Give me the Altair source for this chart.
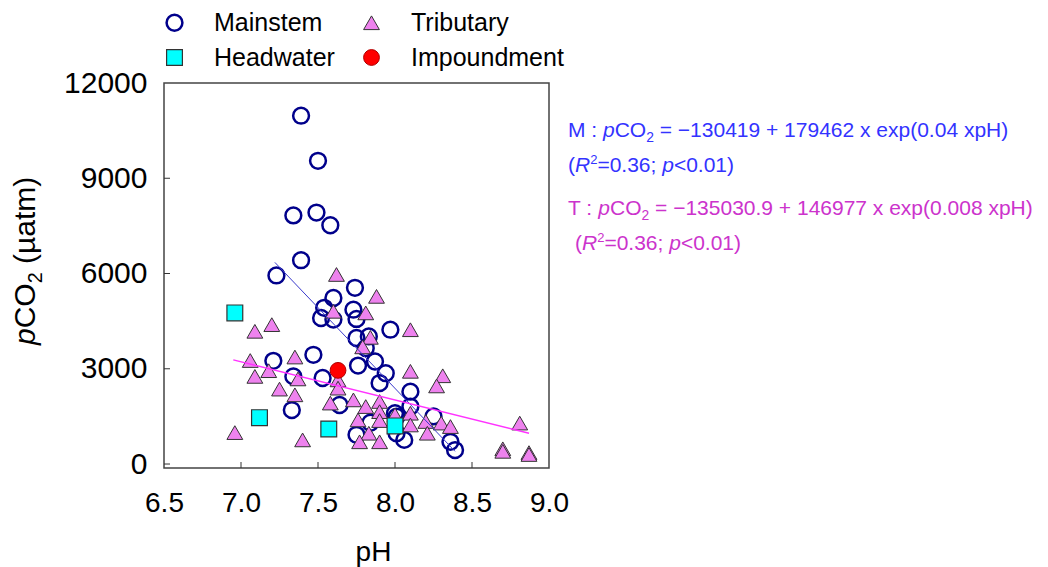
import altair as alt
import pandas as pd

F = "Liberation Sans"

# ---------------- data ----------------
main_ph = [7.39, 7.50, 7.34, 7.49, 7.58, 7.39, 7.23, 7.74, 7.60, 7.54, 7.52, 7.60, 7.73,
           7.75, 7.97, 7.75, 7.83, 7.81, 7.76, 7.87, 7.94, 7.90, 7.47, 7.21, 7.34, 7.53,
           7.33, 8.10, 7.64, 7.75, 8.00, 8.01, 8.06, 8.10, 8.25, 8.36, 8.39, 7.84, 8.01]
main_co2 = [10970, 9550, 7830, 7920, 7520, 6420, 5940, 5550, 5230, 4920, 4600, 4550, 4860,
            4570, 4230, 3970, 4020, 3650, 3100, 3230, 2860, 2550, 3440, 3250, 2760, 2710,
            1700, 2280, 1860, 920, 1600, 970, 760, 1810, 1500, 700, 440, 1300, 1490]

trib_ph = [7.62, 7.88, 7.60, 7.81, 8.10, 7.84, 7.79, 7.20, 7.09, 7.06, 7.09, 7.18, 7.35,
           7.37, 7.25, 7.35, 6.96, 7.40, 8.10, 7.63, 7.63, 7.58, 7.73, 7.81, 7.90, 7.90,
           7.76, 7.90, 8.00, 8.10, 7.83, 7.77, 7.90, 8.10, 8.31, 8.27, 8.20, 8.21, 8.30,
           8.36, 8.81, 8.70, 8.70, 8.87, 8.87]
trib_co2 = [5970, 5280, 4810, 4760, 4230, 3990, 3690, 4390, 4180, 3260, 2760, 2940, 3370,
            2680, 2360, 2180, 990, 760, 2920, 2650, 2390, 1920, 2020, 1810, 1970, 1650,
            1390, 1370, 1550, 1600, 970, 700, 700, 1230, 2780, 2460, 1340, 970, 1290,
            1180, 1290, 480, 400, 360, 300]

head_ph = [6.96, 7.12, 7.57, 8.00]
head_co2 = [4760, 1460, 1105, 1200]

imp_ph = [7.63]
imp_co2 = [2950]

# legend order (filled column by column): Mainstem, Headwater | Tributary, Impoundment
types = ["Mainstem", "Headwater", "Tributary", "Impoundment"]

# regression lines (end points)
m_line_ph = [7.22, 8.39]
m_line_co2 = [6350, 400]
t_line_ph = [6.95, 8.87]
t_line_co2 = [3280, 970]

x_ticks = [6.5, 7.0, 7.5, 8.0, 8.5, 9.0]
y_ticks = [0, 3000, 6000, 9000, 12000]
x_inner_ticks = [7.0, 7.5, 8.0, 8.5]
y_inner_ticks = [0, 3000, 6000, 9000]

# ---------------- build tables (drawing order: mainstem, tributary, headwater, impoundment) ----
rows = []
for t, xs, ys in [("Mainstem", main_ph, main_co2), ("Tributary", trib_ph, trib_co2),
                  ("Headwater", head_ph, head_co2), ("Impoundment", imp_ph, imp_co2)]:
    for a, b in zip(xs, ys):
        rows.append({"pH": a, "pCO2": b, "Type": t})
df = pd.DataFrame(rows)

W, H = 385, 385
x_scale = alt.Scale(domain=[6.5, 9.0], nice=False, zero=False)
y_scale = alt.Scale(domain=[-125, 12000], nice=False, zero=False)

leg = alt.Legend(title=None, orient="none", legendX=-2, legendY=-73, columns=2,
                 labelFont=F, labelFontSize=25, labelColor="#000", labelOffset=27,
                 symbolSize=250, rowPadding=9, columnPadding=24, padding=0)

points = alt.Chart(df).mark_point(size=250, opacity=1).encode(
    x=alt.X("pH:Q", scale=x_scale,
            axis=alt.Axis(values=x_ticks, format=".1f", labelFont=F, labelFontSize=28,
                          labelColor="#000", labelPadding=21, labelFlush=False,
                          labelOverlap=False, ticks=False, tickSize=0, domain=False,
                          grid=False, title="pH", titleFont=F, titleFontSize=28,
                          titleFontWeight="normal", titleColor="#000", titleX=209,
                          titleY=92, titleBaseline="alphabetic")),
    y=alt.Y("pCO2:Q", scale=y_scale,
            axis=alt.Axis(values=y_ticks, format="d", labelFont=F, labelFontSize=30,
                          labelColor="#000", labelPadding=17, labelFlush=False,
                          labelOverlap=False, ticks=False, tickSize=0, domain=False,
                          grid=False, title=None)),
    shape=alt.Shape("Type:N", scale=alt.Scale(domain=types,
                    range=["circle", "square", "triangle-up", "circle"]), legend=leg),
    fill=alt.Fill("Type:N", scale=alt.Scale(domain=types,
                  range=["transparent", "#00ffff", "#ee82ee", "#ff0000"]), legend=leg),
    stroke=alt.Stroke("Type:N", scale=alt.Scale(domain=types,
                      range=["#00008b", "#333333", "#333333", "#b00000"]), legend=leg),
    strokeWidth=alt.StrokeWidth("Type:N", scale=alt.Scale(type="ordinal", domain=types,
                                range=[2.5, 1.2, 1, 1]), legend=leg),
)

m_line = alt.Chart(pd.DataFrame({"pH": m_line_ph, "pCO2": m_line_co2})).mark_line(
    color="#3a3acc", strokeWidth=1).encode(x=alt.X("pH:Q", scale=x_scale),
                                            y=alt.Y("pCO2:Q", scale=y_scale))
t_line = alt.Chart(pd.DataFrame({"pH": t_line_ph, "pCO2": t_line_co2})).mark_line(
    color="#ff33ff", strokeWidth=1.5).encode(x=alt.X("pH:Q", scale=x_scale),
                                              y=alt.Y("pCO2:Q", scale=y_scale))

xt = alt.Chart(pd.DataFrame({"pH": x_inner_ticks})).mark_rule(color="#333", strokeWidth=1).encode(
    x=alt.X("pH:Q", scale=x_scale), y=alt.value(H), y2=alt.value(H - 6))
yt = alt.Chart(pd.DataFrame({"pCO2": y_inner_ticks})).mark_rule(color="#333", strokeWidth=1).encode(
    y=alt.Y("pCO2:Q", scale=y_scale), x=alt.value(0), x2=alt.value(6))

# ---------------- rich text helpers ----------------
ADV = {" ": 278, "(": 333, ")": 333, "+": 584, "\u2212": 584, ".": 278,
       ":": 278, ";": 278, "<": 584, "=": 584, "C": 722, "H": 722, "M": 833, "O": 778,
       "R": 722, "T": 611, "a": 556, "e": 556, "m": 833, "p": 556, "t": 278, "x": 500,
       "\u00b5": 576}


def width(s, size):
    return sum(ADV.get(c, 556) for c in s) / 1000.0 * size


def rich(segments, x0, y0, size, color, angle=0):
    """segments: list of (text, style) with style in n, i, sub, sup"""
    layers = []
    pos = 0.0
    for txt, st in segments:
        fs = size
        shift = 0.0
        if st == "sub":
            fs = size * 0.66
            shift = size * 0.24
        elif st == "sup":
            fs = size * 0.62
            shift = -size * 0.38
        style = "italic" if st == "i" else "normal"
        lead = len(txt) - len(txt.lstrip(" "))
        pos += width(" " * lead, fs)
        shown = txt.strip(" ")
        if angle == 0:
            xx, yy = x0 + pos, y0 + shift
        else:
            xx, yy = x0 + shift, y0 - pos
        layers.append(
            alt.Chart(pd.DataFrame({"t": [shown]})).mark_text(
                align="left", baseline="alphabetic", font=F, fontSize=fs,
                fontStyle=style, color=color, angle=angle).encode(
                text="t:N", x=alt.value(xx), y=alt.value(yy)))
        pos += width(txt.lstrip(" "), fs)
    return layers


BLUE = "#3333ff"
MAG = "#cc33cc"
stat = [("(", "n"), ("R", "i"), ("2", "sup"), ("=0.36; ", "n"), ("p", "i"), ("<0.01)", "n")]
texts = []
texts += rich([("M : ", "n"), ("p", "i"), ("CO", "n"), ("2", "sub"),
               (" = \u2212130419 + 179462 x exp(0.04 xpH)", "n")], 404, 54, 21, BLUE)
texts += rich(stat, 404, 89, 21, BLUE)
texts += rich([("T : ", "n"), ("p", "i"), ("CO", "n"), ("2", "sub"),
               (" = \u2212135030.9 + 146977 x exp(0.008 xpH)", "n")], 404, 132, 21, MAG)
texts += rich(stat, 411, 167, 21, MAG)
texts += rich([("p", "i"), ("CO", "n"), ("2", "sub"), (" (\u00b5atm)", "n")],
              -129, 262, 30, "#000", angle=270)

chart = alt.layer(points, m_line, t_line, xt, yt, *texts).properties(
    width=W, height=H,
    padding={"left": 156, "top": 75, "right": 491, "bottom": 99},
    autosize=alt.AutoSizeParams(type="none"),
    background="white",
).configure_view(stroke="#444444", strokeWidth=1.5)

chart.save("out.html", embed_options={"renderer": "svg", "actions": False})
